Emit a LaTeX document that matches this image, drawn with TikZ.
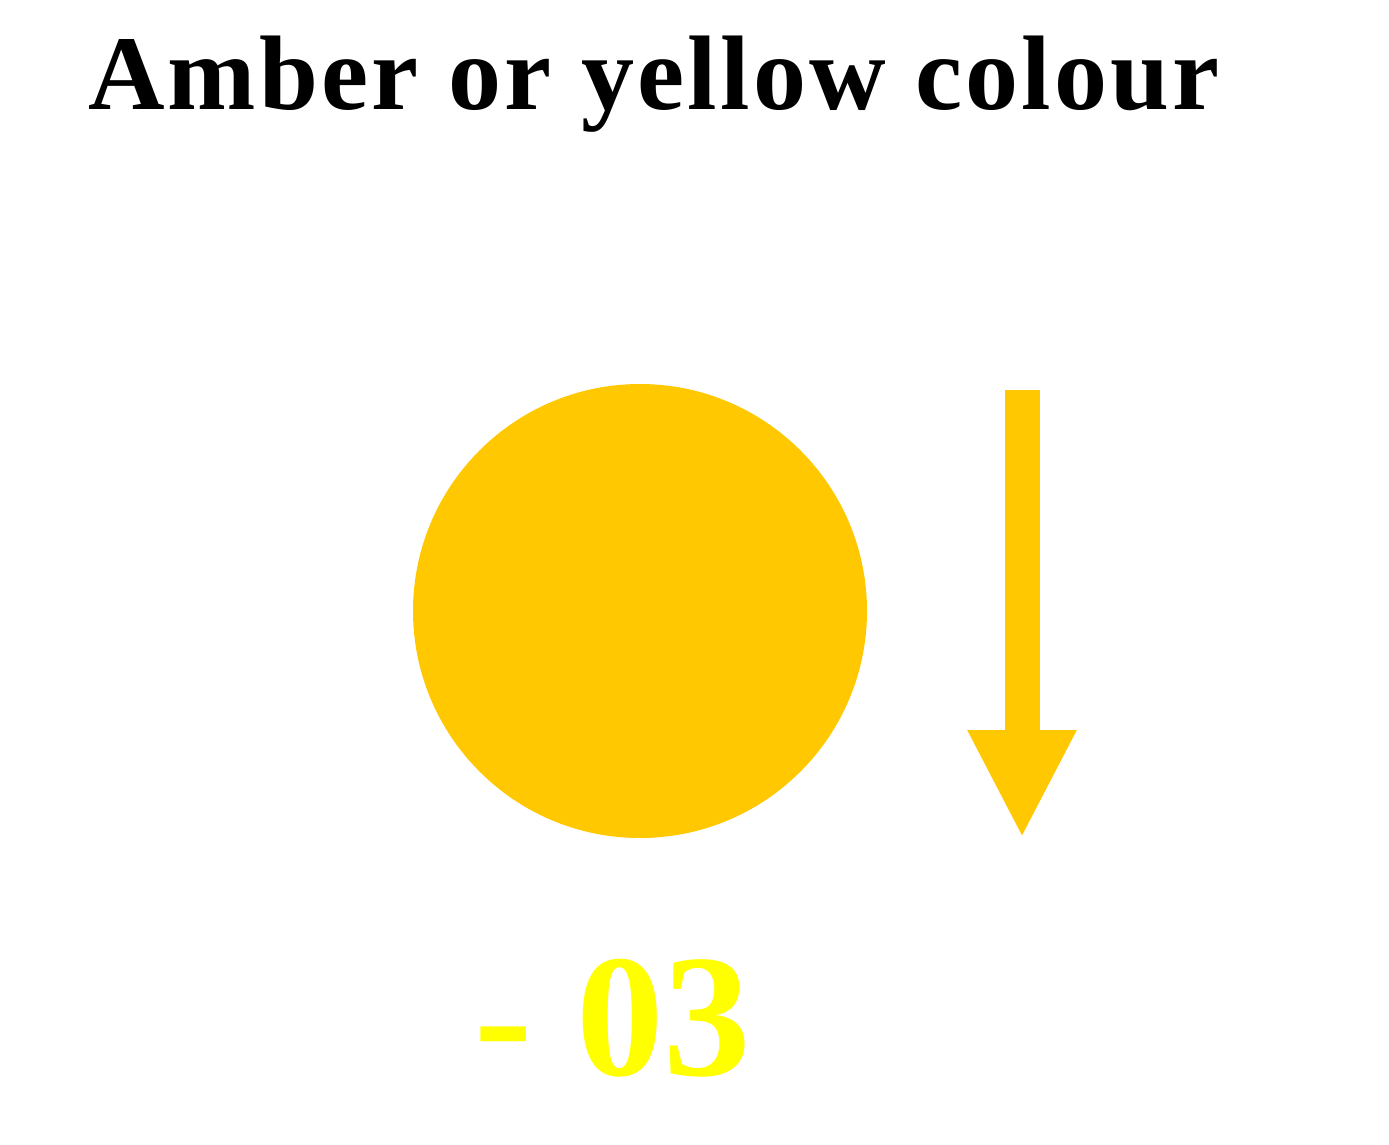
\documentclass[tikz,border=0pt]{standalone}
\usepackage{fontspec}
\setmainfont{Liberation Serif}
\usepackage{tikz}
\usetikzlibrary{arrows.meta,positioning}
\definecolor{amber}{RGB}{255,200,0}
\definecolor{brightyellow}{RGB}{255,255,0}

\begin{document}
\begin{tikzpicture}[
  x=1pt, y=-1pt,
  heading/.style={anchor=base west, inner sep=0pt, font=\fontsize{106}{120}\selectfont\bfseries\addfontfeature{LetterSpace=3}},
  lamp/.style={circle, fill=amber, minimum size=454pt, inner sep=0pt},
  reading/.style={anchor=base west, inner sep=0pt, text=brightyellow, font=\fontsize{175}{190}\selectfont\bfseries},
  fallarrow/.style={amber, line width=35pt, -{Triangle[width=101pt, length=108pt]}}
]
\useasboundingbox (0,0) rectangle (1389,1145);
\node[heading] (title) at (88,110) {Amber or yellow colour};
\node[lamp] (light) at (640,611) {};
\node[reading] (value) at (474,1075) {- 03};
\coordinate (arrtop) at (1022,390);
\coordinate (arrtip) at (1022,838);

\draw[fallarrow] (arrtop) -- (arrtip);
\end{tikzpicture}
\end{document}
